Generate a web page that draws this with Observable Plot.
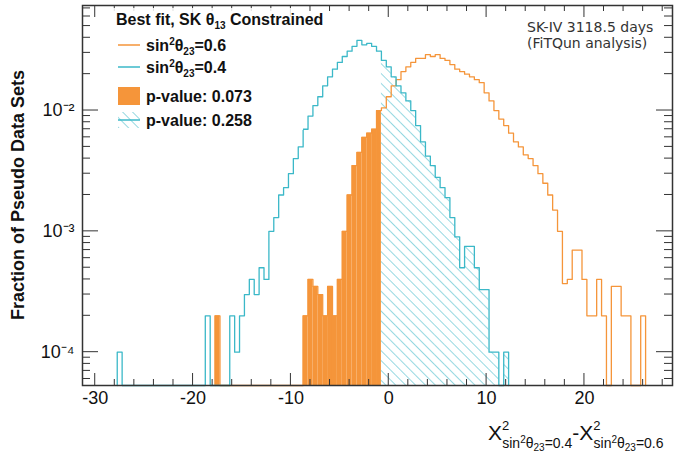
<!DOCTYPE html>
<html><head><meta charset="utf-8">
<script src="https://cdn.jsdelivr.net/npm/d3@7"></script>
<script src="https://cdn.jsdelivr.net/npm/@observablehq/plot@0.6"></script>
<style>body{margin:0;background:#fff;font-family:"Liberation Sans",Arial,sans-serif}</style>
</head><body><div id="c"></div>
<script>
const binWidth = 0.5;
const cut = -0.75;
const blueStart = -16.25;
const blueValues = [2e-4,1e-4,2e-4,3e-4,4e-4,3e-4,5e-4,4e-4,1e-3,1.3e-3,2e-3,2.3e-3,3e-3,4e-3,5e-3,7e-3,9e-3,1.1e-2,1.3e-2,1.6e-2,1.9e-2,2.2e-2,2.5e-2,2.8e-2,3.1e-2,3.4e-2,3.8e-2,3.5e-2,3.6e-2,3.4e-2,3.1e-2,2.6e-2,2.3e-2,1.9e-2,1.6e-2,1.4e-2,1.2e-2,1e-2,7.5e-3,5.5e-3,4.2e-3,3.5e-3,2.8e-3,2.3e-3,1.9e-3,1.3e-3,9e-4,5e-4,7.5e-4,7.5e-4,5e-4,3.3e-4,3.3e-4,1e-4,1e-4,0,1e-4,0];
const blueOutliers = [[-27.75,1e-4],[-18.75,2e-4]];
const orangeStart = -9.25;
const orangeValues = [0,2e-4,4e-4,3.5e-4,3e-4,2e-4,3.5e-4,2e-4,4e-4,1e-3,2e-3,3.5e-3,4.5e-3,6e-3,6.5e-3,7e-3,1e-2,1.05e-2,1.3e-2,1.6e-2,1.8e-2,2.1e-2,2.3e-2,2.5e-2,2.7e-2,2.7e-2,2.9e-2,2.8e-2,2.9e-2,2.7e-2,2.6e-2,2.4e-2,2.2e-2,2.1e-2,2e-2,1.9e-2,1.8e-2,1.7e-2,1.4e-2,1.2e-2,1e-2,8.5e-3,7.5e-3,6.5e-3,5.5e-3,5e-3,4.3e-3,4e-3,3.5e-3,3e-3,2.5e-3,2e-3,1.5e-3,1e-3,3.7e-4,4e-4,7e-4,7e-4,4e-4,2e-4,2e-4,4e-4,2e-4,0,3.5e-4,3.5e-4,2e-4,2e-4,0,0,2e-4,0];
const orangeOutliers = [[-17.75,2e-4]];
const xTicks = [-30,-20,-10,0,10,20];
const yTicks = [1e-4,1e-3,1e-2];
const yTickLabels = ["10⁻⁴","10⁻³","10⁻²"];

const floor = 5.3e-5;
function bins(start, vals, outl){
  const b = vals.map((v,i)=>({x1:start+i*binWidth, x2:start+(i+1)*binWidth, v}));
  outl.forEach(([x,v])=>b.push({x1:x,x2:x+binWidth,v}));
  return b.filter(d=>d.v>0).sort((a,b)=>a.x1-b.x1);
}
function outline(b){
  const pts=[]; let prev=null;
  b.forEach(d=>{
    if(prev===null || Math.abs(prev-d.x1)>1e-9){ if(prev!==null) pts.push({x:prev,y:floor}); pts.push({x:d.x1,y:floor}); }
    pts.push({x:d.x1,y:d.v}); pts.push({x:d.x2,y:d.v}); prev=d.x2;
  });
  pts.push({x:prev,y:floor});
  return pts;
}
const blue = bins(blueStart, blueValues, blueOutliers);
const orange = bins(orangeStart, orangeValues, orangeOutliers);
const BLUE="#3bb8c8", ORANGE="#f5953a";

const plot = Plot.plot({
  width:686, height:456, marginLeft:82, marginRight:14, marginTop:5, marginBottom:71,
  style:{fontFamily:"Liberation Sans, Arial", background:"#fff"},
  x:{domain:[-31.3,29]},
  y:{type:"log", domain:[floor,0.074]},
  marks:[
    Plot.rect(orange.filter(d=>d.x2<=cut+1e-9),{x1:"x1",x2:"x2",y1:floor,y2:"v",fill:ORANGE}),
    Plot.rect(blue.filter(d=>d.x1>=cut-1e-9),{x1:"x1",x2:"x2",y1:floor,y2:"v",fill:"url(#hatch)"}),
    Plot.line(outline(orange),{x:"x",y:"y",stroke:ORANGE,strokeWidth:1.3}),
    Plot.line(outline(blue),{x:"x",y:"y",stroke:BLUE,strokeWidth:1.3}),
    Plot.frame({stroke:"#333",strokeWidth:1.5}),
    Plot.axisX({ticks:xTicks,tickSize:0,tickPadding:6,fontSize:18,label:null,tickFormat:d=>d<0?"-"+Math.abs(d):d}),
    Plot.axisY({ticks:yTicks,tickSize:0,tickPadding:8,fontSize:18,label:null,tickFormat:d=>yTickLabels[yTicks.indexOf(d)]})
  ]
});
const svg = d3.select(plot);
svg.append("defs").html(`<pattern id="hatch" patternUnits="userSpaceOnUse" width="7" height="7" patternTransform="rotate(-45)"><line x1="0" y1="0" x2="0" y2="7" stroke="${BLUE}" stroke-width="1.1"/></pattern>`);
const sx = plot.scale("x"), sy = plot.scale("y");
const x0=82, x1=672, yb=385, yt=5;
const g = svg.append("g").attr("stroke","#333");
for(let v=-30; v<=28; v+=2){ const px=sx.apply(v); const L = v%10===0?12:6;
  g.append("line").attr("x1",px).attr("x2",px).attr("y1",yb).attr("y2",yb-L);
  g.append("line").attr("x1",px).attr("x2",px).attr("y1",yt).attr("y2",yt+L); }
for(let e=-5; e<=-2; e++) for(let m=1;m<=9;m++){ const v=m*Math.pow(10,e); if(v<floor||v>0.074) continue;
  const py=sy.apply(v); const L=m===1?16:8;
  g.append("line").attr("x1",x0).attr("x2",x0+L).attr("y1",py).attr("y2",py);
  g.append("line").attr("x1",x1).attr("x2",x1-L).attr("y1",py).attr("y2",py); }
svg.selectAll("[aria-label='x-axis tick label'] text, [aria-label='y-axis tick label'] text").attr("font-weight","normal").attr("fill","#111");
svg.append("text").attr("transform","translate(24,195) rotate(-90)").attr("text-anchor","middle")
  .attr("font-size",18).attr("font-weight","bold").attr("fill","#111").text("Fraction of Pseudo Data Sets");
svg.append("text").attr("text-anchor","start").attr("x",488).attr("y",440).attr("font-size",21).attr("fill","#111").html(
 'X<tspan dy="-10" font-size="13">2</tspan><tspan dx="-7" dy="18" font-size="14">sin</tspan><tspan dy="-5" font-size="10">2</tspan><tspan dy="5" font-size="14">θ</tspan><tspan dy="3" font-size="10">23</tspan><tspan dy="-3" font-size="14">=0.4</tspan><tspan dy="-8">-X</tspan><tspan dy="-10" font-size="13">2</tspan><tspan dx="-7" dy="18" font-size="14">sin</tspan><tspan dy="-5" font-size="10">2</tspan><tspan dy="5" font-size="14">θ</tspan><tspan dy="3" font-size="10">23</tspan><tspan dy="-3" font-size="14">=0.6</tspan>');
svg.append("text").attr("text-anchor","start").attr("x",527).attr("y",32).attr("font-size",14).attr("fill","#333").attr("font-family","DejaVu Sans").text("SK-IV 3118.5 days");
svg.append("text").attr("text-anchor","start").attr("x",527).attr("y",48).attr("font-size",14).attr("fill","#333").attr("font-family","DejaVu Sans").text("(FiTQun analysis)");
const lg = svg.append("g").attr("text-anchor","start").attr("font-size",16).attr("font-weight","bold").attr("fill","#111");
lg.append("rect").attr("x",113).attr("y",8).attr("width",190).attr("height",122).attr("fill","#fff").attr("fill-opacity",0.85);
lg.append("text").attr("x",116).attr("y",25).html('Best fit, SK θ<tspan dy="4" font-size="10">13</tspan><tspan dy="-4"> Constrained</tspan>');
const rows=[[ORANGE,"0.6"],[BLUE,"0.4"]];
rows.forEach((r,i)=>{ const y=51+i*22;
  lg.append("line").attr("x1",118).attr("x2",140).attr("y1",y-6).attr("y2",y-6).attr("stroke",r[0]).attr("stroke-width",1.5);
  lg.append("text").attr("x",146).attr("y",y).html(`sin<tspan dy="-6" font-size="10">2</tspan><tspan dy="6">θ</tspan><tspan dy="4" font-size="10">23</tspan><tspan dy="-4">=${r[1]}</tspan>`); });
lg.append("rect").attr("x",118).attr("y",87).attr("width",22).attr("height",18).attr("fill",ORANGE);
lg.append("text").attr("x",146).attr("y",102).text("p-value: 0.073");
lg.append("rect").attr("x",118).attr("y",112).attr("width",22).attr("height",16).attr("fill","url(#hatch)");
lg.append("line").attr("x1",118).attr("x2",140).attr("y1",120).attr("y2",120).attr("stroke",BLUE).attr("stroke-width",1.5);
lg.append("text").attr("x",146).attr("y",126).text("p-value: 0.258");
document.getElementById("c").appendChild(plot);
</script></body></html>
